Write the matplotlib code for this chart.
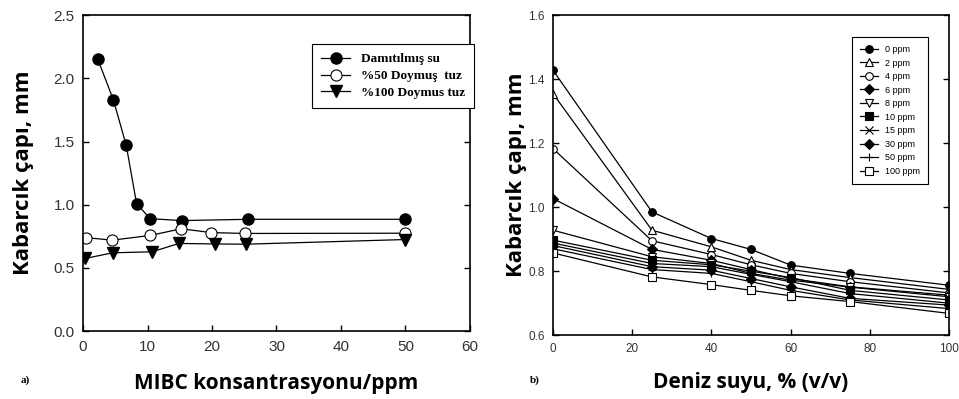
import matplotlib
matplotlib.use("Agg")
import matplotlib.pyplot as plt

# ---- panel a) data
x_su = [2.3, 4.7, 6.7, 8.3, 10.4, 15.3, 25.6, 50]
y_su = [2.15, 1.83, 1.47, 1.01, 0.89, 0.875, 0.885, 0.885]
x_50 = [0.5, 4.5, 10.4, 15.2, 19.9, 25.1, 50]
y_50 = [0.74, 0.72, 0.757, 0.81, 0.78, 0.773, 0.775]
x_100 = [0.3, 4.6, 10.7, 14.9, 20.5, 25.2, 50]
y_100 = [0.575, 0.62, 0.628, 0.694, 0.69, 0.688, 0.725]
labels_a = ["Damıtılmış su", "%50 Doymuş  tuz", "%100 Doymus tuz"]

# ---- panel b) data
deniz = [0, 25, 40, 50, 60, 75, 100]
ppm_labels = ["0 ppm", "2 ppm", "4 ppm", "6 ppm", "8 ppm", "10 ppm",
              "15 ppm", "30 ppm", "50 ppm", "100 ppm"]
ppm0 = [1.428, 0.985, 0.902, 0.868, 0.819, 0.793, 0.756]
ppm2 = [1.355, 0.928, 0.876, 0.834, 0.805, 0.780, 0.743]
ppm4 = [1.183, 0.895, 0.852, 0.820, 0.793, 0.767, 0.732]
ppm6 = [1.027, 0.868, 0.834, 0.805, 0.777, 0.751, 0.725]
ppm8 = [0.928, 0.845, 0.824, 0.793, 0.772, 0.750, 0.720]
ppm10 = [0.897, 0.834, 0.820, 0.800, 0.780, 0.740, 0.710]
ppm15 = [0.888, 0.824, 0.814, 0.790, 0.767, 0.730, 0.700]
ppm30 = [0.880, 0.814, 0.803, 0.777, 0.751, 0.715, 0.694]
ppm50 = [0.870, 0.805, 0.793, 0.767, 0.740, 0.710, 0.683]
ppm100 = [0.857, 0.782, 0.758, 0.740, 0.723, 0.705, 0.668]
series_b = [ppm0, ppm2, ppm4, ppm6, ppm8, ppm10, ppm15, ppm30, ppm50, ppm100]
markers_b = ["o", "^", "o", "D", "v", "s", "x", "D", "+", "s"]
filled_b = [True, False, False, True, False, True, True, True, True, False]

tick_font = "Liberation Sans"
label_font = "Open Sans"

fig = plt.figure(figsize=(9.59, 3.99), dpi=100)
ax1 = fig.add_axes([0.0866, 0.170, 0.4034, 0.792])
ax2 = fig.add_axes([0.5766, 0.160, 0.413, 0.802])

# panel a
ax1.plot(x_su, y_su, "-o", color="k", lw=0.9, ms=8, mfc="k", label=labels_a[0])
ax1.plot(x_50, y_50, "-o", color="k", lw=0.9, ms=8, mfc="white", mew=0.8, label=labels_a[1])
ax1.plot(x_100, y_100, "-v", color="k", lw=0.9, ms=8, mfc="k", label=labels_a[2])
ax1.set_xlim(0, 60)
ax1.set_ylim(0, 2.5)
ax1.set_xticks([0, 10, 20, 30, 40, 50, 60])
ax1.set_yticks([0.0, 0.5, 1.0, 1.5, 2.0, 2.5])
ax1.set_yticklabels(["0.0", "0.5", "1.0", "1.5", "2.0", "2.5"])
leg1 = ax1.legend(loc="upper left", bbox_to_anchor=(0.575, 0.93), fancybox=False,
                  edgecolor="k", framealpha=1, handlelength=2.2, borderpad=0.7,
                  labelspacing=0.35, prop={"family": "Liberation Serif", "weight": "bold", "size": 9.5})
leg1.get_frame().set_linewidth(0.8)
ax1.set_xlabel("MIBC konsantrasyonu/ppm", fontsize=15, fontweight="bold",
               family=label_font, labelpad=14)
ax1.set_ylabel("Kabarcık çapı, mm", fontsize=16, fontweight="bold",
               family=label_font, labelpad=14)

# panel b
for ys, lab, m, f in zip(series_b, ppm_labels, markers_b, filled_b):
    ax2.plot(deniz, ys, "-", marker=m, color="k", lw=0.9, ms=5.5 if m != "D" else 5,
             mfc="k" if f else "white", mew=0.8, label=lab)
ax2.set_xlim(0, 100)
ax2.set_ylim(0.6, 1.6)
ax2.set_xticks([0, 20, 40, 60, 80, 100])
ax2.set_yticks([0.6, 0.8, 1.0, 1.2, 1.4, 1.6])
leg2 = ax2.legend(loc="upper left", bbox_to_anchor=(0.743, 0.946), fancybox=False,
                  edgecolor="k", framealpha=1, handlelength=2.0, borderpad=0.9,
                  labelspacing=0.5, prop={"family": tick_font, "size": 6.5})
leg2.get_frame().set_linewidth(0.8)
ax2.set_xlabel("Deniz suyu, % (v/v)", fontsize=15, fontweight="bold",
               family=label_font, labelpad=12)
ax2.set_ylabel("Kabarcık çapı, mm", fontsize=16, fontweight="bold",
               family=label_font, labelpad=1)

for ax, fs in [(ax1, 11), (ax2, 8.5)]:
    ax.tick_params(direction="in", right=True, length=4, width=1, labelsize=fs, pad=6)
    for lbl in ax.get_xticklabels() + ax.get_yticklabels():
        lbl.set_family(tick_font)
        lbl.set_color("#333333")
    for sp in ax.spines.values():
        sp.set_linewidth(1.2)

fig.text(0.021, 0.04, "a)", fontsize=8, family="Liberation Serif", fontweight="bold")
fig.text(0.553, 0.04, "b)", fontsize=8, family="Liberation Serif", fontweight="bold")

fig.savefig("out.png", dpi=100)
